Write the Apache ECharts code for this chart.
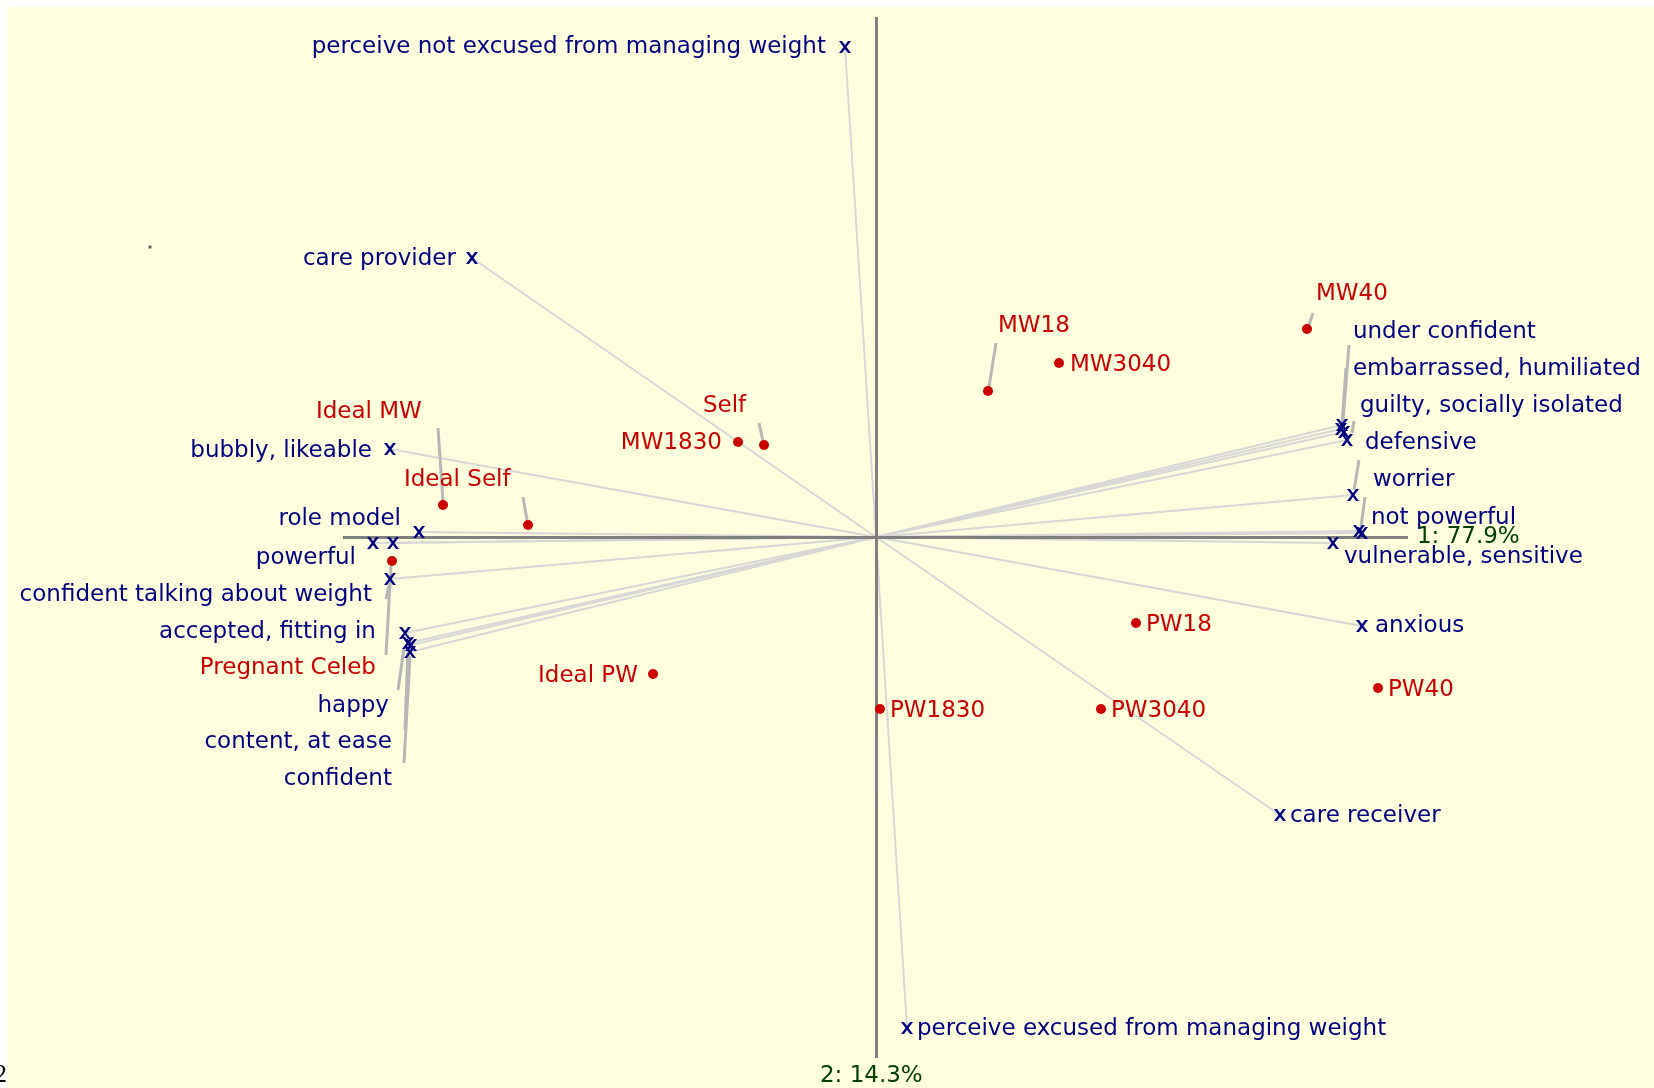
<!DOCTYPE html>
<html>
<head>
<meta charset="utf-8">
<title>Grid biplot</title>
<script src="https://cdn.jsdelivr.net/npm/echarts@6/dist/echarts.min.js"></script>
<style>
html,body{margin:0;padding:0;background:#fff;}
#chart{width:1654px;height:1088px;}
</style>
</head>
<body>
<div id="chart"></div>
<script>
// elements (red dots), biplot units
var elementNames = ['Self', 'MW1830', 'Ideal MW', 'Ideal Self', 'Pregnant Celeb', 'Ideal PW',
	'MW18', 'MW3040', 'MW40', 'PW18', 'PW40', 'PW1830', 'PW3040'];
var elementX = [-1.12, -1.38, -4.33, -3.48, -4.84, -2.23, 1.12, 1.83, 4.31, 2.60, 5.02, 0.04, 2.25];
var elementY = [0.92, 0.95, 0.32, 0.12, -0.24, -1.37, 1.46, 1.74, 2.08, -0.86, -1.51, -1.72, -1.72];

// construct poles (blue x), one entry per mark
var constructNames = ['perceive not excused from managing weight', 'care provider', 'bubbly, likeable',
	'role model', 'powerful', '', 'confident talking about weight', 'accepted, fitting in', 'happy',
	'content, at ease', 'confident', 'under confident', 'embarrassed, humiliated',
	'guilty, socially isolated', 'defensive', 'worrier', 'not powerful', '', 'vulnerable, sensitive',
	'anxious', 'care receiver', 'perceive excused from managing weight'];
var constructX = [-0.31, -4.04, -4.86, -4.57, -4.83, -5.03, -4.86, -4.71, -4.68, -4.65, -4.66,
	4.65, 4.68, 4.66, 4.71, 4.77, 4.83, 4.86, 4.57, 4.86, 4.04, 0.31];
var constructY = [4.90, 2.79, 0.88, 0.05, -0.06, -0.06, -0.42, -0.96, -1.06, -1.08, -1.15,
	1.08, 1.05, 1.12, 0.97, 0.42, 0.06, 0.04, -0.06, -0.89, -2.78, -4.91];

// percentage of variance per component
var axisNames = ['1: 77.9%', '2: 14.3%'];

// stray pixel in the original picture
var strayX = [-7.26];
var strayY = [2.90];

/* ---- layout (label anchors, leader lines, axis extents) ---- */
var elementLabelAt = [
	[-1.73, 1.33, 'left'], [-1.54, 0.96, 'right'], [-5.60, 1.27, 'left'], [-4.72, 0.59, 'left'],
	[-5.00, -1.29, 'right'], [-2.38, -1.37, 'right'], [1.22, 2.13, 'left'], [1.94, 1.74, 'left'],
	[4.40, 2.45, 'left'], [2.70, -0.86, 'left'], [5.12, -1.51, 'left'], [0.14, -1.72, 'left'],
	[2.35, -1.72, 'left']
];
var constructLabelAt = [
	[-0.50, 4.92, 'right'], [-4.20, 2.80, 'right'], [-5.04, 0.88, 'right'], [-4.75, 0.20, 'right'],
	[-5.20, -0.19, 'right'], null, [-5.04, -0.56, 'right'], [-5.00, -0.93, 'right'],
	[-4.87, -1.67, 'right'], [-4.84, -2.03, 'right'], [-4.84, -2.40, 'right'],
	[4.77, 2.07, 'left'], [4.77, 1.70, 'left'], [4.84, 1.33, 'left'], [4.89, 0.96, 'left'],
	[4.97, 0.59, 'left'], [4.95, 0.21, 'left'], null, [4.68, -0.18, 'left'], [4.99, -0.87, 'left'],
	[4.14, -2.77, 'left'], [0.41, -4.90, 'left']
];
var axisLabelAt = [[5.41, 0.02, 'left'], [-0.56, -5.37, 'left']];
var leaders = [
	[[-1.17, 1.14], [-1.13, 0.96]], [[-4.38, 1.09], [-4.33, 0.36]], [[-3.53, 0.40], [-3.49, 0.17]],
	[[-4.85, -0.29], [-4.90, -1.18]], [[1.20, 1.94], [1.13, 1.50]], [[4.37, 2.24], [4.33, 2.12]],
	[[-4.87, -0.48], [-4.90, -0.62]], [[-4.72, -1.11], [-4.78, -1.53]], [[-4.68, -1.13], [-4.71, -1.93]],
	[[-4.66, -1.19], [-4.72, -2.26]], [[4.73, 1.92], [4.67, 1.16]], [[4.70, 1.69], [4.66, 1.12]],
	[[4.78, 1.16], [4.76, 1.04]], [[4.83, 0.77], [4.78, 0.47]], [[4.89, 0.40], [4.85, 0.10]]
];
var axisH = [-5.33, 5.32];
var axisV = [5.20, -5.21];

var FONT = 'DejaVu Sans';
var XMARK = 'path://M0,0L3,0L6,4L9,0L12,0L7.5,6L12,12L9,12L6,8L3,12L0,12L4.5,6Z';

function points(xs, ys){
	var out = [];
	for(var i=0; i<xs.length; i++){
		out.push([xs[i], ys[i]]);
	}
	return out;
}

function textItems(names, at){
	var out = [];
	for(var i=0; i<names.length; i++){
		if(!at[i] || names[i] === '') continue;
		out.push({name: names[i], value: [at[i][0], at[i][1]], label: {align: at[i][2]}});
	}
	return out;
}

function textSeries(items, color){
	return {
		type: 'scatter', silent: true, z: 5,
		symbolSize: 0.1,
		itemStyle: {color: 'rgba(0,0,0,0)', opacity: 1},
		label: {
			show: true, position: [0, 0], offset: [0, 2], verticalAlign: 'middle', opacity: 1,
			fontFamily: FONT, fontSize: 23, color: color, formatter: '{b}'
		},
		data: items
	};
}

var rayData = [];
for(var i=0; i<constructX.length; i++){
	rayData.push({coords: [[0, 0], [constructX[i], constructY[i]]]});
}
var leaderData = [];
for(var j=0; j<leaders.length; j++){
	leaderData.push({coords: leaders[j]});
}

var chart = echarts.init(document.getElementById('chart'));
var option = {
	animation: false,
	backgroundColor: '#ffffff',
	grid: {left: 7, top: 7, right: 0, bottom: 0, show: true, backgroundColor: '#ffffe0', borderWidth: 0},
	xAxis: {type: 'value', min: -8.69, max: 7.78, show: false},
	yAxis: {type: 'value', min: -5.51, max: 5.30, show: false},
	graphic: [
		{type: 'text', x: -6, y: 1062, z: 10, style: {text: '2', font: '26px "Liberation Serif"', fill: '#000'}}
	],
	series: [
		{
			// construct vectors from the origin
			type: 'lines', coordinateSystem: 'cartesian2d', silent: true, z: 1,
			lineStyle: {color: '#d7d7d7', width: 2, opacity: 1},
			data: rayData
		},
		{
			type: 'lines', coordinateSystem: 'cartesian2d', silent: true, z: 2,
			lineStyle: {color: '#808080', width: 3, opacity: 1},
			data: [
				{coords: [[axisH[0], 0], [axisH[1], 0]]},
				{coords: [[0, axisV[0]], [0, axisV[1]]]}
			]
		},
		{
			type: 'lines', coordinateSystem: 'cartesian2d', silent: true, z: 3,
			lineStyle: {color: '#b6b6b6', width: 3, opacity: 1},
			data: leaderData
		},
		{
			type: 'scatter', silent: true, z: 4,
			symbol: 'circle', symbolSize: 10,
			itemStyle: {color: '#cc0000', opacity: 1},
			data: points(elementX, elementY)
		},
		{
			type: 'scatter', silent: true, z: 4,
			symbol: XMARK, symbolSize: 12,
			itemStyle: {color: '#000080', opacity: 1},
			data: points(constructX, constructY)
		},
		{
			type: 'scatter', silent: true, z: 4,
			symbol: 'rect', symbolSize: 3,
			itemStyle: {color: '#606060', opacity: 1},
			data: points(strayX, strayY)
		},
		textSeries(textItems(elementNames, elementLabelAt), '#cc0000'),
		textSeries(textItems(constructNames, constructLabelAt), '#000080'),
		textSeries(textItems(axisNames, axisLabelAt), '#004000')
	]
};
chart.setOption(option);
</script>
</body>
</html>
